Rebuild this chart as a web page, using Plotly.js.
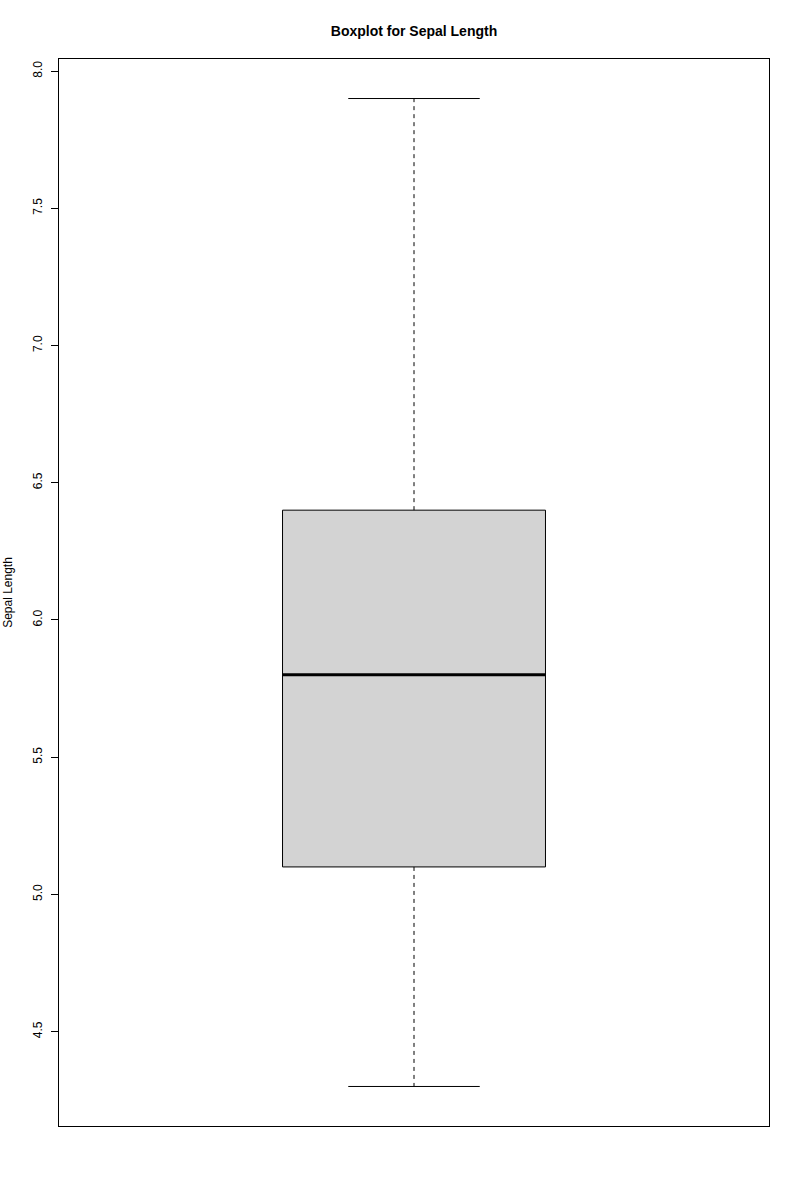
<!DOCTYPE html>
<html>
<head>
<meta charset="utf-8">
<script src="https://cdn.plot.ly/plotly-3.0.1.min.js"></script>
<style>html,body{margin:0;padding:0;background:#fff;}#chart{width:800px;height:1200px;}</style>
</head>
<body>
<div id="chart"></div>
<script>
// Data (iris Sepal.Length five-number summary)
const groupPos = [1];
const minVal = [4.3];
const q1Val = [5.1];
const medianVal = [5.8];
const q3Val = [6.4];
const maxVal = [7.9];
const yTicks = [4.5, 5.0, 5.5, 6.0, 6.5, 7.0, 7.5, 8.0];
const yTickText = ["4.5", "5.0", "5.5", "6.0", "6.5", "7.0", "7.5", "8.0"];

const boxHalf = 0.2, capHalf = 0.1;
const traces = [];
groupPos.forEach((p, i) => {
  traces.push({
    type: 'scatter', mode: 'lines', hoverinfo: 'skip', showlegend: false,
    x: [p - boxHalf, p + boxHalf, p + boxHalf, p - boxHalf, p - boxHalf],
    y: [q1Val[i], q1Val[i], q3Val[i], q3Val[i], q1Val[i]],
    fill: 'toself', fillcolor: '#d3d3d3',
    line: {color: '#000', width: 1}
  });
  traces.push({
    type: 'scatter', mode: 'lines', hoverinfo: 'skip', showlegend: false,
    x: [p, p, null, p, p],
    y: [q3Val[i], maxVal[i], null, q1Val[i], minVal[i]],
    line: {color: '#000', width: 1, dash: '4px,4px'}
  });
  traces.push({
    type: 'scatter', mode: 'lines', hoverinfo: 'skip', showlegend: false,
    x: [p - capHalf, p + capHalf, null, p - capHalf, p + capHalf],
    y: [maxVal[i], maxVal[i], null, minVal[i], minVal[i]],
    line: {color: '#000', width: 1}
  });
  traces.push({
    type: 'scatter', mode: 'lines', hoverinfo: 'skip', showlegend: false,
    x: [p - boxHalf, p + boxHalf],
    y: [medianVal[i], medianVal[i]],
    line: {color: '#000', width: 3}
  });
});

const layout = {
  width: 800, height: 1200,
  margin: {l: 59, r: 31, t: 59, b: 74},
  paper_bgcolor: '#fff', plot_bgcolor: '#fff',
  font: {family: 'Liberation Sans, Arial, sans-serif', color: '#000', size: 12},
  title: {text: '<b>Boxplot for Sepal Length</b>', font: {size: 14, color: '#000'},
          x: 0.5175, xanchor: 'center', y: 0.974, yanchor: 'middle'},
  xaxis: {range: [0.46, 1.54], showticklabels: false, ticks: '', showgrid: false, zeroline: false,
          showline: true, linecolor: '#000', linewidth: 1, mirror: true},
  yaxis: {range: [4.156, 8.044], tickvals: yTicks, ticktext: yTickText, tickangle: -90,
          ticks: 'outside', ticklen: 7, tickcolor: '#000', tickwidth: 1,
          ticklabelstandoff: 4,
          showgrid: false, zeroline: false,
          showline: true, linecolor: '#000', linewidth: 1, mirror: true,
          tickfont: {size: 12},
          title: {text: 'Sepal Length', font: {size: 12}, standoff: 16}}
};

Plotly.newPlot('chart', traces, layout, {displayModeBar: false, staticPlot: true});
</script>
</body>
</html>
